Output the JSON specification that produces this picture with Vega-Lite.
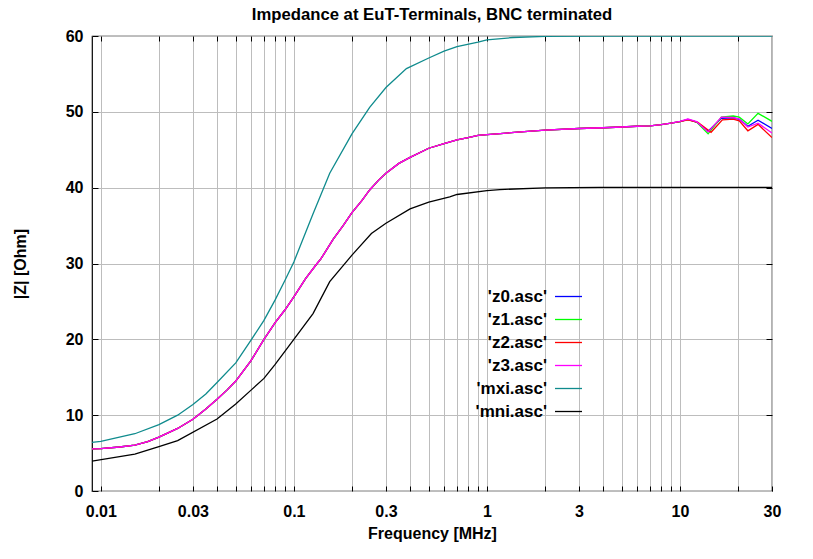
{
  "$schema": "https://vega.github.io/schema/vega-lite/v6.json",
  "width": 680,
  "height": 455,
  "autosize": "none",
  "padding": {"left": 92, "top": 36, "right": 41, "bottom": 68},
  "background": "white",
  "title": {"text": "Impedance at EuT-Terminals, BNC terminated", "anchor": "middle", "frame": "group", "offset": 4, "fontSize": 16.7, "fontWeight": "bold", "font": "Liberation Sans", "color": "black"},
  "datasets": {
    "curves": [
      {"s": "'z0.asc'", "f": 0.009, "z": 5.55}, {"s": "'z0.asc'", "f": 0.01, "z": 5.6}, {"s": "'z0.asc'", "f": 0.0125, "z": 5.8}, {"s": "'z0.asc'", "f": 0.015, "z": 6.05}, {"s": "'z0.asc'", "f": 0.0175, "z": 6.5}, {"s": "'z0.asc'", "f": 0.02, "z": 7.1}, {"s": "'z0.asc'", "f": 0.025, "z": 8.25}, {"s": "'z0.asc'", "f": 0.03, "z": 9.45}, {"s": "'z0.asc'", "f": 0.035, "z": 10.8}, {"s": "'z0.asc'", "f": 0.04, "z": 12.1}, {"s": "'z0.asc'", "f": 0.045, "z": 13.3}, {"s": "'z0.asc'", "f": 0.05, "z": 14.5}, {"s": "'z0.asc'", "f": 0.06, "z": 17.2}, {"s": "'z0.asc'", "f": 0.07, "z": 20.0}, {"s": "'z0.asc'", "f": 0.08, "z": 22.2}, {"s": "'z0.asc'", "f": 0.09, "z": 23.9}, {"s": "'z0.asc'", "f": 0.1, "z": 25.6}, {"s": "'z0.asc'", "f": 0.115, "z": 28.0}, {"s": "'z0.asc'", "f": 0.131, "z": 29.9}, {"s": "'z0.asc'", "f": 0.138, "z": 30.6}, {"s": "'z0.asc'", "f": 0.16, "z": 33.2}, {"s": "'z0.asc'", "f": 0.18, "z": 35.0}, {"s": "'z0.asc'", "f": 0.2, "z": 36.7}, {"s": "'z0.asc'", "f": 0.225, "z": 38.3}, {"s": "'z0.asc'", "f": 0.247, "z": 39.7}, {"s": "'z0.asc'", "f": 0.275, "z": 41.0}, {"s": "'z0.asc'", "f": 0.3, "z": 41.9}, {"s": "'z0.asc'", "f": 0.35, "z": 43.2}, {"s": "'z0.asc'", "f": 0.4, "z": 44.0}, {"s": "'z0.asc'", "f": 0.5, "z": 45.2}, {"s": "'z0.asc'", "f": 0.6, "z": 45.8}, {"s": "'z0.asc'", "f": 0.7, "z": 46.3}, {"s": "'z0.asc'", "f": 0.8, "z": 46.6}, {"s": "'z0.asc'", "f": 0.9, "z": 46.9}, {"s": "'z0.asc'", "f": 1, "z": 47.0}, {"s": "'z0.asc'", "f": 1.5, "z": 47.35}, {"s": "'z0.asc'", "f": 2, "z": 47.6}, {"s": "'z0.asc'", "f": 3, "z": 47.8}, {"s": "'z0.asc'", "f": 4, "z": 47.9}, {"s": "'z0.asc'", "f": 5, "z": 48.0}, {"s": "'z0.asc'", "f": 6, "z": 48.1}, {"s": "'z0.asc'", "f": 7, "z": 48.15}, {"s": "'z0.asc'", "f": 8, "z": 48.3}, {"s": "'z0.asc'", "f": 9, "z": 48.5}, {"s": "'z0.asc'", "f": 10, "z": 48.7}, {"s": "'z0.asc'", "f": 11, "z": 49.0}, {"s": "'z0.asc'", "f": 12.2, "z": 48.65}, {"s": "'z0.asc'", "f": 14.0, "z": 47.45}, {"s": "'z0.asc'", "f": 16.4, "z": 49.15}, {"s": "'z0.asc'", "f": 18.9, "z": 49.2}, {"s": "'z0.asc'", "f": 20.3, "z": 49.0}, {"s": "'z0.asc'", "f": 22.5, "z": 48.1}, {"s": "'z0.asc'", "f": 25.4, "z": 48.9}, {"s": "'z0.asc'", "f": 30, "z": 47.8},

      {"s": "'z1.asc'", "f": 0.009, "z": 5.55}, {"s": "'z1.asc'", "f": 0.01, "z": 5.6}, {"s": "'z1.asc'", "f": 0.0125, "z": 5.8}, {"s": "'z1.asc'", "f": 0.015, "z": 6.05}, {"s": "'z1.asc'", "f": 0.0175, "z": 6.5}, {"s": "'z1.asc'", "f": 0.02, "z": 7.1}, {"s": "'z1.asc'", "f": 0.025, "z": 8.25}, {"s": "'z1.asc'", "f": 0.03, "z": 9.45}, {"s": "'z1.asc'", "f": 0.035, "z": 10.8}, {"s": "'z1.asc'", "f": 0.04, "z": 12.1}, {"s": "'z1.asc'", "f": 0.045, "z": 13.3}, {"s": "'z1.asc'", "f": 0.05, "z": 14.5}, {"s": "'z1.asc'", "f": 0.06, "z": 17.2}, {"s": "'z1.asc'", "f": 0.07, "z": 20.0}, {"s": "'z1.asc'", "f": 0.08, "z": 22.2}, {"s": "'z1.asc'", "f": 0.09, "z": 23.9}, {"s": "'z1.asc'", "f": 0.1, "z": 25.6}, {"s": "'z1.asc'", "f": 0.115, "z": 28.0}, {"s": "'z1.asc'", "f": 0.131, "z": 29.9}, {"s": "'z1.asc'", "f": 0.138, "z": 30.6}, {"s": "'z1.asc'", "f": 0.16, "z": 33.2}, {"s": "'z1.asc'", "f": 0.18, "z": 35.0}, {"s": "'z1.asc'", "f": 0.2, "z": 36.7}, {"s": "'z1.asc'", "f": 0.225, "z": 38.3}, {"s": "'z1.asc'", "f": 0.247, "z": 39.7}, {"s": "'z1.asc'", "f": 0.275, "z": 41.0}, {"s": "'z1.asc'", "f": 0.3, "z": 41.9}, {"s": "'z1.asc'", "f": 0.35, "z": 43.2}, {"s": "'z1.asc'", "f": 0.4, "z": 44.0}, {"s": "'z1.asc'", "f": 0.5, "z": 45.2}, {"s": "'z1.asc'", "f": 0.6, "z": 45.8}, {"s": "'z1.asc'", "f": 0.7, "z": 46.3}, {"s": "'z1.asc'", "f": 0.8, "z": 46.6}, {"s": "'z1.asc'", "f": 0.9, "z": 46.9}, {"s": "'z1.asc'", "f": 1, "z": 47.0}, {"s": "'z1.asc'", "f": 1.5, "z": 47.35}, {"s": "'z1.asc'", "f": 2, "z": 47.6}, {"s": "'z1.asc'", "f": 3, "z": 47.8}, {"s": "'z1.asc'", "f": 4, "z": 47.9}, {"s": "'z1.asc'", "f": 5, "z": 48.0}, {"s": "'z1.asc'", "f": 6, "z": 48.1}, {"s": "'z1.asc'", "f": 7, "z": 48.15}, {"s": "'z1.asc'", "f": 8, "z": 48.3}, {"s": "'z1.asc'", "f": 9, "z": 48.5}, {"s": "'z1.asc'", "f": 10, "z": 48.7}, {"s": "'z1.asc'", "f": 11, "z": 49.0}, {"s": "'z1.asc'", "f": 12.2, "z": 48.65}, {"s": "'z1.asc'", "f": 14.0, "z": 47.1}, {"s": "'z1.asc'", "f": 16.4, "z": 49.3}, {"s": "'z1.asc'", "f": 18.9, "z": 49.45}, {"s": "'z1.asc'", "f": 20.3, "z": 49.3}, {"s": "'z1.asc'", "f": 22.5, "z": 48.4}, {"s": "'z1.asc'", "f": 25.4, "z": 49.8}, {"s": "'z1.asc'", "f": 30, "z": 48.75},

      {"s": "'z2.asc'", "f": 0.009, "z": 5.55}, {"s": "'z2.asc'", "f": 0.01, "z": 5.6}, {"s": "'z2.asc'", "f": 0.0125, "z": 5.8}, {"s": "'z2.asc'", "f": 0.015, "z": 6.05}, {"s": "'z2.asc'", "f": 0.0175, "z": 6.5}, {"s": "'z2.asc'", "f": 0.02, "z": 7.1}, {"s": "'z2.asc'", "f": 0.025, "z": 8.25}, {"s": "'z2.asc'", "f": 0.03, "z": 9.45}, {"s": "'z2.asc'", "f": 0.035, "z": 10.8}, {"s": "'z2.asc'", "f": 0.04, "z": 12.1}, {"s": "'z2.asc'", "f": 0.045, "z": 13.3}, {"s": "'z2.asc'", "f": 0.05, "z": 14.5}, {"s": "'z2.asc'", "f": 0.06, "z": 17.2}, {"s": "'z2.asc'", "f": 0.07, "z": 20.0}, {"s": "'z2.asc'", "f": 0.08, "z": 22.2}, {"s": "'z2.asc'", "f": 0.09, "z": 23.9}, {"s": "'z2.asc'", "f": 0.1, "z": 25.6}, {"s": "'z2.asc'", "f": 0.115, "z": 28.0}, {"s": "'z2.asc'", "f": 0.131, "z": 29.9}, {"s": "'z2.asc'", "f": 0.138, "z": 30.6}, {"s": "'z2.asc'", "f": 0.16, "z": 33.2}, {"s": "'z2.asc'", "f": 0.18, "z": 35.0}, {"s": "'z2.asc'", "f": 0.2, "z": 36.7}, {"s": "'z2.asc'", "f": 0.225, "z": 38.3}, {"s": "'z2.asc'", "f": 0.247, "z": 39.7}, {"s": "'z2.asc'", "f": 0.275, "z": 41.0}, {"s": "'z2.asc'", "f": 0.3, "z": 41.9}, {"s": "'z2.asc'", "f": 0.35, "z": 43.2}, {"s": "'z2.asc'", "f": 0.4, "z": 44.0}, {"s": "'z2.asc'", "f": 0.5, "z": 45.2}, {"s": "'z2.asc'", "f": 0.6, "z": 45.8}, {"s": "'z2.asc'", "f": 0.7, "z": 46.3}, {"s": "'z2.asc'", "f": 0.8, "z": 46.6}, {"s": "'z2.asc'", "f": 0.9, "z": 46.9}, {"s": "'z2.asc'", "f": 1, "z": 47.0}, {"s": "'z2.asc'", "f": 1.5, "z": 47.35}, {"s": "'z2.asc'", "f": 2, "z": 47.6}, {"s": "'z2.asc'", "f": 3, "z": 47.8}, {"s": "'z2.asc'", "f": 4, "z": 47.9}, {"s": "'z2.asc'", "f": 5, "z": 48.0}, {"s": "'z2.asc'", "f": 6, "z": 48.1}, {"s": "'z2.asc'", "f": 7, "z": 48.15}, {"s": "'z2.asc'", "f": 8, "z": 48.3}, {"s": "'z2.asc'", "f": 9, "z": 48.5}, {"s": "'z2.asc'", "f": 10, "z": 48.7}, {"s": "'z2.asc'", "f": 11, "z": 48.95}, {"s": "'z2.asc'", "f": 12.4, "z": 48.6}, {"s": "'z2.asc'", "f": 14.5, "z": 47.3}, {"s": "'z2.asc'", "f": 16.6, "z": 48.95}, {"s": "'z2.asc'", "f": 18.9, "z": 49.05}, {"s": "'z2.asc'", "f": 20.3, "z": 48.8}, {"s": "'z2.asc'", "f": 22.5, "z": 47.5}, {"s": "'z2.asc'", "f": 25.4, "z": 48.35}, {"s": "'z2.asc'", "f": 30, "z": 46.6},

      {"s": "'z3.asc'", "f": 0.009, "z": 5.55}, {"s": "'z3.asc'", "f": 0.01, "z": 5.6}, {"s": "'z3.asc'", "f": 0.0125, "z": 5.8}, {"s": "'z3.asc'", "f": 0.015, "z": 6.05}, {"s": "'z3.asc'", "f": 0.0175, "z": 6.5}, {"s": "'z3.asc'", "f": 0.02, "z": 7.1}, {"s": "'z3.asc'", "f": 0.025, "z": 8.25}, {"s": "'z3.asc'", "f": 0.03, "z": 9.45}, {"s": "'z3.asc'", "f": 0.035, "z": 10.8}, {"s": "'z3.asc'", "f": 0.04, "z": 12.1}, {"s": "'z3.asc'", "f": 0.045, "z": 13.3}, {"s": "'z3.asc'", "f": 0.05, "z": 14.5}, {"s": "'z3.asc'", "f": 0.06, "z": 17.2}, {"s": "'z3.asc'", "f": 0.07, "z": 20.0}, {"s": "'z3.asc'", "f": 0.08, "z": 22.2}, {"s": "'z3.asc'", "f": 0.09, "z": 23.9}, {"s": "'z3.asc'", "f": 0.1, "z": 25.6}, {"s": "'z3.asc'", "f": 0.115, "z": 28.0}, {"s": "'z3.asc'", "f": 0.131, "z": 29.9}, {"s": "'z3.asc'", "f": 0.138, "z": 30.6}, {"s": "'z3.asc'", "f": 0.16, "z": 33.2}, {"s": "'z3.asc'", "f": 0.18, "z": 35.0}, {"s": "'z3.asc'", "f": 0.2, "z": 36.7}, {"s": "'z3.asc'", "f": 0.225, "z": 38.3}, {"s": "'z3.asc'", "f": 0.247, "z": 39.7}, {"s": "'z3.asc'", "f": 0.275, "z": 41.0}, {"s": "'z3.asc'", "f": 0.3, "z": 41.9}, {"s": "'z3.asc'", "f": 0.35, "z": 43.2}, {"s": "'z3.asc'", "f": 0.4, "z": 44.0}, {"s": "'z3.asc'", "f": 0.5, "z": 45.2}, {"s": "'z3.asc'", "f": 0.6, "z": 45.8}, {"s": "'z3.asc'", "f": 0.7, "z": 46.3}, {"s": "'z3.asc'", "f": 0.8, "z": 46.6}, {"s": "'z3.asc'", "f": 0.9, "z": 46.9}, {"s": "'z3.asc'", "f": 1, "z": 47.0}, {"s": "'z3.asc'", "f": 1.5, "z": 47.35}, {"s": "'z3.asc'", "f": 2, "z": 47.6}, {"s": "'z3.asc'", "f": 3, "z": 47.8}, {"s": "'z3.asc'", "f": 4, "z": 47.9}, {"s": "'z3.asc'", "f": 5, "z": 48.0}, {"s": "'z3.asc'", "f": 6, "z": 48.1}, {"s": "'z3.asc'", "f": 7, "z": 48.15}, {"s": "'z3.asc'", "f": 8, "z": 48.3}, {"s": "'z3.asc'", "f": 9, "z": 48.5}, {"s": "'z3.asc'", "f": 10, "z": 48.75}, {"s": "'z3.asc'", "f": 11, "z": 49.05}, {"s": "'z3.asc'", "f": 12.2, "z": 48.7}, {"s": "'z3.asc'", "f": 14.0, "z": 47.35}, {"s": "'z3.asc'", "f": 16.4, "z": 49.3}, {"s": "'z3.asc'", "f": 18.9, "z": 49.25}, {"s": "'z3.asc'", "f": 20.3, "z": 49.05}, {"s": "'z3.asc'", "f": 22.5, "z": 48.0}, {"s": "'z3.asc'", "f": 25.4, "z": 48.5}, {"s": "'z3.asc'", "f": 30, "z": 47.2},

      {"s": "'mxi.asc'", "f": 0.009, "z": 6.4}, {"s": "'mxi.asc'", "f": 0.01, "z": 6.55}, {"s": "'mxi.asc'", "f": 0.015, "z": 7.55}, {"s": "'mxi.asc'", "f": 0.02, "z": 8.75}, {"s": "'mxi.asc'", "f": 0.025, "z": 10.0}, {"s": "'mxi.asc'", "f": 0.03, "z": 11.4}, {"s": "'mxi.asc'", "f": 0.035, "z": 12.8}, {"s": "'mxi.asc'", "f": 0.04, "z": 14.3}, {"s": "'mxi.asc'", "f": 0.05, "z": 16.9}, {"s": "'mxi.asc'", "f": 0.06, "z": 19.9}, {"s": "'mxi.asc'", "f": 0.07, "z": 22.5}, {"s": "'mxi.asc'", "f": 0.08, "z": 25.2}, {"s": "'mxi.asc'", "f": 0.09, "z": 27.8}, {"s": "'mxi.asc'", "f": 0.1, "z": 30.2}, {"s": "'mxi.asc'", "f": 0.125, "z": 36.4}, {"s": "'mxi.asc'", "f": 0.1534, "z": 41.9}, {"s": "'mxi.asc'", "f": 0.2, "z": 47.1}, {"s": "'mxi.asc'", "f": 0.247, "z": 50.6}, {"s": "'mxi.asc'", "f": 0.3, "z": 53.2}, {"s": "'mxi.asc'", "f": 0.383, "z": 55.7}, {"s": "'mxi.asc'", "f": 0.5, "z": 57.1}, {"s": "'mxi.asc'", "f": 0.6, "z": 58.0}, {"s": "'mxi.asc'", "f": 0.7, "z": 58.6}, {"s": "'mxi.asc'", "f": 0.9, "z": 59.2}, {"s": "'mxi.asc'", "f": 1, "z": 59.5}, {"s": "'mxi.asc'", "f": 1.366, "z": 59.8}, {"s": "'mxi.asc'", "f": 2, "z": 59.95}, {"s": "'mxi.asc'", "f": 3.5, "z": 60}, {"s": "'mxi.asc'", "f": 30, "z": 60},

      {"s": "'mni.asc'", "f": 0.009, "z": 3.95}, {"s": "'mni.asc'", "f": 0.015, "z": 4.87}, {"s": "'mni.asc'", "f": 0.02, "z": 5.84}, {"s": "'mni.asc'", "f": 0.025, "z": 6.65}, {"s": "'mni.asc'", "f": 0.04, "z": 9.5}, {"s": "'mni.asc'", "f": 0.05, "z": 11.46}, {"s": "'mni.asc'", "f": 0.06, "z": 13.3}, {"s": "'mni.asc'", "f": 0.07, "z": 14.85}, {"s": "'mni.asc'", "f": 0.08, "z": 16.7}, {"s": "'mni.asc'", "f": 0.1, "z": 20.0}, {"s": "'mni.asc'", "f": 0.1257, "z": 23.4}, {"s": "'mni.asc'", "f": 0.1534, "z": 27.6}, {"s": "'mni.asc'", "f": 0.2, "z": 31.1}, {"s": "'mni.asc'", "f": 0.2522, "z": 33.95}, {"s": "'mni.asc'", "f": 0.3, "z": 35.3}, {"s": "'mni.asc'", "f": 0.4, "z": 37.2}, {"s": "'mni.asc'", "f": 0.5, "z": 38.1}, {"s": "'mni.asc'", "f": 0.642, "z": 38.8}, {"s": "'mni.asc'", "f": 0.7, "z": 39.1}, {"s": "'mni.asc'", "f": 1, "z": 39.6}, {"s": "'mni.asc'", "f": 1.166, "z": 39.75}, {"s": "'mni.asc'", "f": 2, "z": 39.96}, {"s": "'mni.asc'", "f": 3.84, "z": 40.05}, {"s": "'mni.asc'", "f": 30, "z": 40.05}
    ]
  },
  "data": {"name": "curves"},
  "layer": [
    {
      "mark": {"type": "line", "strokeWidth": 1.3, "clip": true},
      "encoding": {
        "x": {
          "field": "f", "type": "quantitative",
          "scale": {"type": "log", "domain": [0.009, 30], "nice": false},
          "axis": {
            "title": "Frequency [MHz]",
            "values": [0.01, 0.02, 0.03, 0.04, 0.05, 0.06, 0.07, 0.08, 0.09, 0.1, 0.2, 0.3, 0.4, 0.5, 0.6, 0.7, 0.8, 0.9, 1, 2, 3, 4, 5, 6, 7, 8, 9, 10, 20, 30],
            "labelExpr": "indexof([0.01, 0.03, 0.1, 0.3, 1, 3, 10, 30], datum.value) >= 0 ? format(datum.value, '~g') : ''",
            "grid": true, "gridColor": "#bdbdbd", "gridWidth": 1,
            "domain": false,
            "ticks": true, "tickSize": -5, "tickColor": "black", "tickWidth": 1,
            "labelPadding": 17, "labelOverlap": false, "labelFlush": false,
            "titlePadding": 6
          }
        },
        "y": {
          "field": "z", "type": "quantitative",
          "scale": {"domain": [0, 60], "nice": false, "zero": true},
          "axis": {
            "title": "|Z| [Ohm]",
            "values": [0, 10, 20, 30, 40, 50, 60],
            "grid": true, "gridColor": "#bdbdbd", "gridWidth": 1,
            "domain": false,
            "ticks": true, "tickSize": -6, "tickColor": "black", "tickWidth": 1,
            "labelPadding": 15,
            "titlePadding": 37
          }
        },
        "color": {
          "field": "s", "type": "nominal",
          "scale": {
            "domain": ["'z0.asc'", "'z1.asc'", "'z2.asc'", "'z3.asc'", "'mxi.asc'", "'mni.asc'"],
            "range": ["#0000ff", "#00ff00", "#ff0000", "#ff00ff", "#0f8b8d", "#000000"]
          },
          "legend": {
            "title": null,
            "orient": "none",
            "legendX": 463,
            "legendY": 246,
            "symbolType": "stroke",
            "symbolSize": 729,
            "symbolStrokeWidth": 1.3,
            "labelFont": "Liberation Sans",
            "labelFontSize": 17,
            "labelFontWeight": "bold",
            "labelColor": "black",
            "labelLimit": 300,
            "rowPadding": 0,
            "encode": {
              "labels": {"update": {"x": {"value": -8}, "align": {"value": "right"}}},
              "symbols": {"update": {"x": {"value": 13.5}}}
            }
          }
        }
      }
    },
    {
      "mark": {"type": "line", "opacity": 0},
      "encoding": {
        "x": {
          "field": "f", "type": "quantitative",
          "scale": {"type": "log", "domain": [0.009, 30], "nice": false},
          "axis": {
            "orient": "top", "title": null, "labels": false, "grid": false, "domain": false,
            "values": [0.01, 0.02, 0.03, 0.04, 0.05, 0.06, 0.07, 0.08, 0.09, 0.1, 0.2, 0.3, 0.4, 0.5, 0.6, 0.7, 0.8, 0.9, 1, 2, 3, 4, 5, 6, 7, 8, 9, 10, 20],
            "ticks": true, "tickSize": -5, "tickColor": "black", "tickWidth": 1
          }
        },
        "y": {
          "field": "z", "type": "quantitative",
          "scale": {"domain": [0, 60], "nice": false, "zero": true},
          "axis": {
            "orient": "right", "title": null, "labels": false, "grid": false, "domain": false,
            "values": [10, 20, 30, 40, 50],
            "ticks": true, "tickSize": -6, "tickColor": "black", "tickWidth": 1
          }
        }
      }
    }
  ],
  "resolve": {"axis": {"x": "independent", "y": "independent"}},
  "config": {
    "font": "Liberation Sans",
    "view": {"stroke": "black", "strokeWidth": 1.2},
    "axis": {
      "labelFont": "Liberation Sans", "labelFontSize": 16, "labelFontWeight": "bold", "labelColor": "black",
      "titleFont": "Liberation Sans", "titleFontSize": 16, "titleFontWeight": "bold", "titleColor": "black"
    }
  }
}
